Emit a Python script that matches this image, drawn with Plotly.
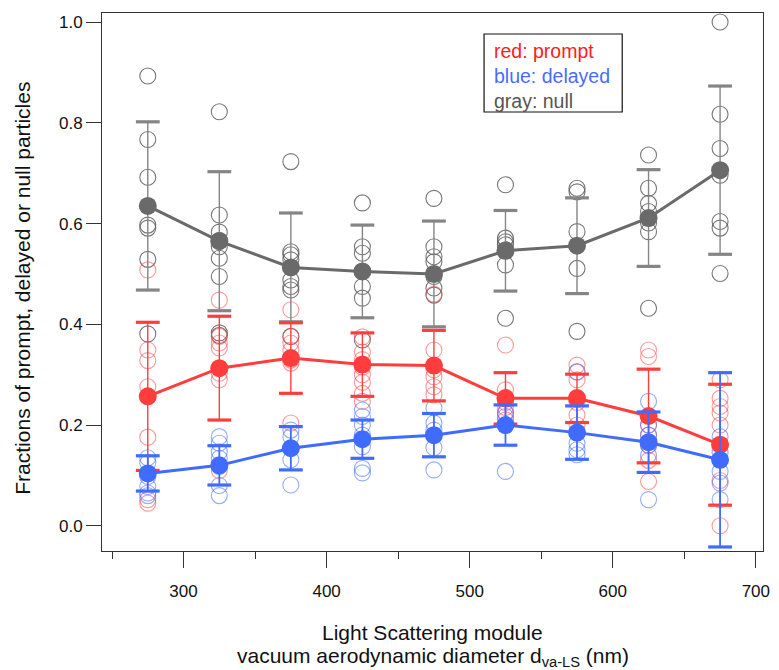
import plotly.graph_objects as go

# ---- data ----
sizes = [275, 325, 375, 425, 475, 525, 575, 625, 675]

gray_mean = [0.635, 0.565, 0.513, 0.505, 0.500, 0.546, 0.556, 0.611, 0.706]
gray_err = [0.167, 0.138, 0.108, 0.092, 0.105, 0.080, 0.095, 0.096, 0.167]
red_mean = [0.257, 0.313, 0.333, 0.320, 0.318, 0.253, 0.253, 0.218, 0.161]
red_err = [0.147, 0.103, 0.070, 0.063, 0.070, 0.051, 0.048, 0.093, 0.120]
blue_mean = [0.104, 0.120, 0.154, 0.172, 0.180, 0.200, 0.185, 0.166, 0.131]
blue_err = [0.035, 0.039, 0.043, 0.038, 0.043, 0.040, 0.053, 0.060, 0.173]

gray_points = [
    [0.893, 0.767, 0.692, 0.597, 0.591, 0.529, 0.381],
    [0.822, 0.617, 0.583, 0.567, 0.554, 0.531, 0.495, 0.383, 0.378],
    [0.723, 0.544, 0.538, 0.528, 0.488, 0.475, 0.468, 0.376],
    [0.641, 0.554, 0.541, 0.505, 0.475, 0.452, 0.369],
    [0.650, 0.554, 0.534, 0.524, 0.495, 0.472, 0.458],
    [0.677, 0.571, 0.564, 0.558, 0.548, 0.518, 0.412],
    [0.670, 0.663, 0.584, 0.511, 0.386],
    [0.736, 0.670, 0.640, 0.624, 0.601, 0.584, 0.432],
    [1.000, 0.817, 0.749, 0.696, 0.604, 0.591, 0.501],
]
red_points = [
    [0.508, 0.349, 0.328, 0.276, 0.176, 0.052, 0.045],
    [0.448, 0.376, 0.363, 0.353, 0.303, 0.290, 0.110],
    [0.429, 0.376, 0.363, 0.349, 0.329, 0.323, 0.204],
    [0.375, 0.345, 0.330, 0.315, 0.300, 0.285, 0.263, 0.247],
    [0.460, 0.349, 0.310, 0.296, 0.276, 0.260],
    [0.359, 0.270, 0.255, 0.245, 0.235, 0.225, 0.210],
    [0.319, 0.305, 0.290, 0.255, 0.245, 0.220, 0.200],
    [0.349, 0.336, 0.200, 0.180, 0.160, 0.130, 0.088],
    [0.290, 0.253, 0.237, 0.224, 0.200, 0.090, 0.000],
]
blue_points = [
    [0.135, 0.125, 0.098, 0.078, 0.065, 0.060],
    [0.177, 0.164, 0.147, 0.134, 0.118, 0.080, 0.060],
    [0.190, 0.177, 0.155, 0.131, 0.081],
    [0.230, 0.217, 0.200, 0.180, 0.157, 0.114, 0.105],
    [0.234, 0.204, 0.190, 0.155, 0.111],
    [0.224, 0.217, 0.200, 0.108],
    [0.306, 0.164, 0.151, 0.141],
    [0.247, 0.200, 0.180, 0.160, 0.140, 0.052],
    [0.177, 0.145, 0.108, 0.085, 0.052],
]

legend_lines = ["red: prompt", "blue: delayed", "gray: null"]
x_title_lines = ["Light Scattering module",
                 "vacuum aerodynamic diameter d<sub>va-LS</sub> (nm)"]
y_title = "Fractions of prompt, delayed or null particles"

# ---- styles ----
C_GRAY, C_GRAY_BAR, C_GRAY_PT = "#6a6a6a", "#858585", "rgba(95,95,95,0.85)"
C_RED, C_RED_PT = "#ff3d3d", "rgba(255,70,70,0.55)"
C_BLUE, C_BLUE_PT = "#3f6cff", "rgba(60,105,255,0.55)"
FONT = "Liberation Sans, Arial, sans-serif"


def flat(pts):
    xs, ys = [], []
    for x, col in zip(sizes, pts):
        for v in col:
            xs.append(x)
            ys.append(v)
    return xs, ys


fig = go.Figure()

# individual (open) circles
for pts, col in [(gray_points, C_GRAY_PT), (red_points, C_RED_PT), (blue_points, C_BLUE_PT)]:
    xs, ys = flat(pts)
    fig.add_trace(go.Scatter(
        x=xs, y=ys, mode="markers",
        marker=dict(symbol="circle-open", size=16, color=col, line=dict(width=1.1, color=col)),
        hoverinfo="skip", showlegend=False))

# error bars + caps + means
for mean, err, line_col, bar_col, stem_w in [
    (gray_mean, gray_err, C_GRAY, C_GRAY_BAR, 1.4),
    (red_mean, red_err, C_RED, C_RED, 1.4),
    (blue_mean, blue_err, C_BLUE, C_BLUE, 1.8),
]:
    fig.add_trace(go.Scatter(
        x=sizes, y=mean, mode="none",
        error_y=dict(type="data", array=err, visible=True, color=bar_col, thickness=stem_w, width=0),
        hoverinfo="skip", showlegend=False))
    caps_y = [m + e for m, e in zip(mean, err)] + [m - e for m, e in zip(mean, err)]
    fig.add_trace(go.Scatter(
        x=sizes + sizes, y=caps_y, mode="markers",
        marker=dict(symbol="line-ew", size=17, color=bar_col, line=dict(width=3.2, color=bar_col)),
        hoverinfo="skip", showlegend=False))
    fig.add_trace(go.Scatter(
        x=sizes, y=mean, mode="lines+markers",
        line=dict(color=line_col, width=3),
        marker=dict(symbol="circle", size=18, color=line_col),
        showlegend=False))

axis_common = dict(
    showline=True, linecolor="#333", linewidth=1, mirror=True,
    ticks="outside", tickcolor="#333", tickwidth=1,
    showgrid=False, zeroline=False,
    tickfont=dict(family=FONT, size=17, color="#111"),
)

fig.update_xaxes(
    range=[243, 705], tick0=0, dtick=100, ticklen=16, ticklabelstandoff=9,
    minor=dict(dtick=50, ticklen=7, tickcolor="#333", ticks="outside"),
    **axis_common)
fig.update_yaxes(
    range=[-0.05, 1.018], tick0=0, dtick=0.2, tickformat=".1f", ticklen=15,
    **axis_common)

# axis titles (placed as text so the two-line spacing can match)
for txt, yy in zip(x_title_lines, [-0.152, -0.197]):
    fig.add_annotation(text=txt, xref="paper", yref="paper", x=0.5, y=yy,
                       xanchor="center", yanchor="middle", showarrow=False,
                       font=dict(family=FONT, size=21, color="#111"))
fig.add_annotation(text=y_title, xref="paper", yref="paper", x=-0.1198, y=0.489,
                   xanchor="center", yanchor="middle", textangle=-90, showarrow=False,
                   font=dict(family=FONT, size=21, color="#111"))

# legend box
fig.add_shape(type="rect", xref="paper", yref="paper",
              x0=0.578, x1=0.787, y0=0.816, y1=0.961,
              line=dict(color="#111", width=1.2), fillcolor="white", layer="above")
leg_cols = ["#ff2020", "#4a6cff", "#555555"]
leg_y = [0.930, 0.883, 0.836]
for txt, c, yy in zip(legend_lines, leg_cols, leg_y):
    fig.add_annotation(text=txt, xref="paper", yref="paper", x=0.590, y=yy,
                       xanchor="left", yanchor="middle", showarrow=False,
                       font=dict(family=FONT, size=19.5, color=c))

fig.update_layout(
    width=779, height=670,
    margin=dict(l=102, r=9, t=13, b=119),
    paper_bgcolor="white", plot_bgcolor="white",
    font=dict(family=FONT, color="#111"),
)

fig.write_html("out.html")
